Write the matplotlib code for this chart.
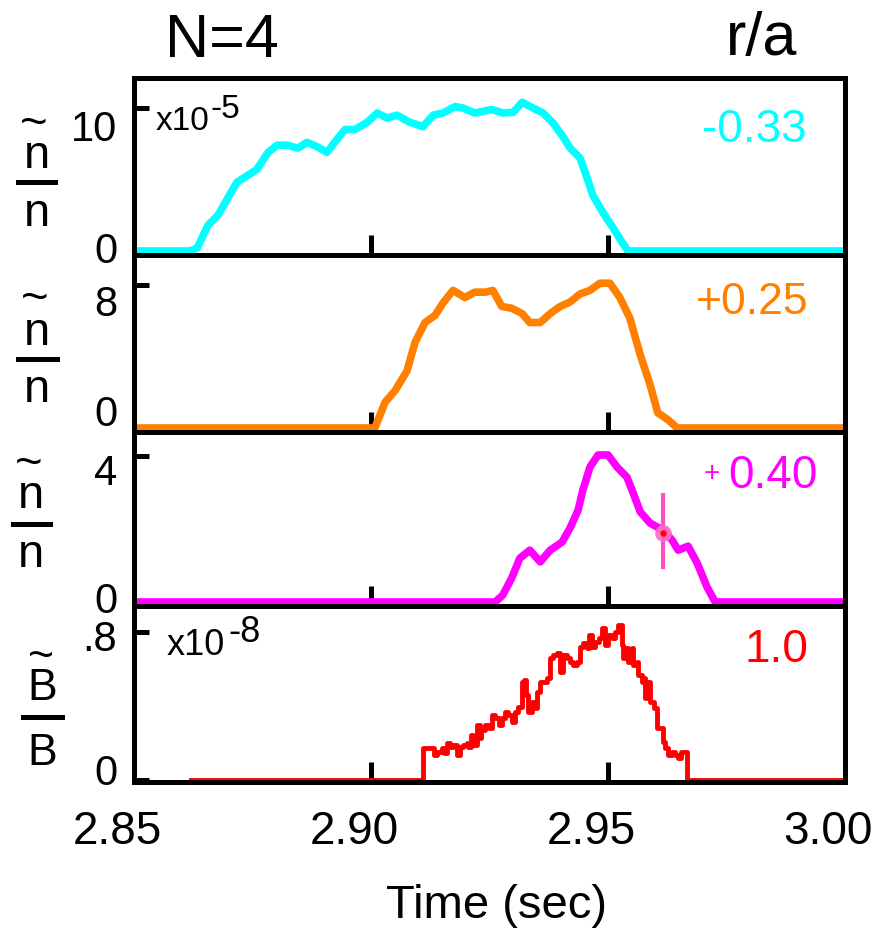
import matplotlib
matplotlib.use('Agg')
import matplotlib.pyplot as plt
from matplotlib.lines import Line2D
from matplotlib.transforms import ScaledTranslation

plt.rcParams['font.family'] = ['Liberation Sans', 'DejaVu Sans']

W, H = 873, 931  # размер картинки в пикселях

# --- данные (время, с) ---
t_cyan = [2.850, 2.8618, 2.8633, 2.8656, 2.8677, 2.8717, 2.8759, 2.8783, 2.8802, 2.8823,
          2.8846, 2.8865, 2.8886, 2.8907, 2.8928, 2.8945, 2.8966, 2.8992, 2.9013, 2.9034,
          2.9055, 2.9082, 2.9110, 2.9131, 2.9152, 2.9177, 2.9194, 2.9219, 2.9255, 2.9278,
          2.9300, 2.9319, 2.9342, 2.9363, 2.9384, 2.9405, 2.9420, 2.9441, 2.9456, 2.9468,
          2.9489, 2.9511, 2.9530, 2.9542, 3.000]
n_cyan = [0, 0, 0.2, 1.8, 2.5, 4.8, 5.7, 6.9, 7.4, 7.4,
          7.2, 7.6, 7.3, 6.9, 7.8, 8.5, 8.5, 9.0, 9.65, 9.3,
          9.5, 9.0, 8.7, 9.5, 9.65, 10.1, 10.0, 9.65, 9.9, 9.65,
          9.7, 10.4, 10.0, 9.65, 8.95, 8.0, 7.2, 6.5, 5.1, 3.9,
          2.7, 1.6, 0.6, 0, 0]

t_orange = [2.850, 2.9008, 2.9030, 2.9051, 2.9076, 2.9093, 2.9114, 2.9135, 2.9152, 2.9173,
            2.9198, 2.9219, 2.9241, 2.9257, 2.9276, 2.9297, 2.9319, 2.9335, 2.9357, 2.9378,
            2.9399, 2.9420, 2.9441, 2.9462, 2.9483, 2.9504, 2.9525, 2.9546, 2.9568, 2.9589,
            2.9605, 2.9627, 2.9646, 3.000]
n_orange = [0, 0, 1.45, 2.1, 3.2, 4.8, 5.9, 6.3, 7.0, 7.7,
            7.3, 7.6, 7.6, 7.7, 6.8, 6.7, 6.4, 5.9, 5.9, 6.4,
            6.8, 7.05, 7.5, 7.7, 8.1, 8.1, 7.3, 6.15, 4.1, 2.4,
            0.85, 0.45, 0, 0]

t_magenta = [2.850, 2.9262, 2.9278, 2.9297, 2.9314, 2.9335, 2.9357, 2.9378, 2.9403, 2.9420,
             2.9437, 2.9447, 2.9462, 2.9479, 2.9500, 2.9519, 2.9540, 2.9553, 2.9568, 2.9589,
             2.9616, 2.9635, 2.9648, 2.9669, 2.9688, 2.9709, 2.9726, 3.000]
n_magenta = [0, 0, 0.19, 0.66, 1.2, 1.42, 1.1, 1.42, 1.64, 2.03,
             2.52, 3.07, 3.7, 4.03, 4.03, 3.7, 3.42, 2.99, 2.47, 2.16,
             1.97, 1.7, 1.42, 1.53, 1.07, 0.41, 0, 0]

# точка с погрешностью на третьей панели
t_err = 2.9616
n_err = 1.89
n_err_lo, n_err_hi = 0.96, 2.93

t_red = [2.8620, 2.9110, 2.9132, 2.9139, 2.9149, 2.9153, 2.9160, 2.9167, 2.9174, 2.9181,
         2.9188, 2.9195, 2.9202, 2.9205, 2.9212, 2.9216, 2.9223, 2.9230, 2.9233, 2.9241,
         2.9248, 2.9255, 2.9262, 2.9269, 2.9276, 2.9283, 2.9290, 2.9297, 2.9304, 2.9311,
         2.9318, 2.9323, 2.9328, 2.9332, 2.9339, 2.9346, 2.9350, 2.9357, 2.9364, 2.9371,
         2.9378, 2.9385, 2.9392, 2.9399, 2.9406, 2.9413, 2.9420, 2.9427, 2.9434, 2.9441,
         2.9448, 2.9455, 2.9459, 2.9466, 2.9473, 2.9480, 2.9487, 2.9494, 2.9501, 2.9508,
         2.9515, 2.9522, 2.9529, 2.9532, 2.9539, 2.9543, 2.9550, 2.9553, 2.9561, 2.9564,
         2.9571, 2.9575, 2.9578, 2.9582, 2.9585, 2.9589, 2.9596, 2.9603, 2.9613, 2.9617,
         2.9620, 2.9627, 2.9634, 2.9641, 2.9648, 2.9655, 2.9662, 2.9667, 3.0000]
b_red = [0, 0.171, 0.135, 0.153, 0.171, 0.144, 0.198, 0.180, 0.189, 0.135,
         0.180, 0.189, 0.198, 0.180, 0.243, 0.189, 0.297, 0.225, 0.270, 0.297,
         0.279, 0.351, 0.333, 0.297, 0.333, 0.369, 0.351, 0.315, 0.369, 0.396,
         0.532, 0.541, 0.459, 0.369, 0.423, 0.387, 0.477, 0.532, 0.532, 0.550,
         0.658, 0.676, 0.685, 0.586, 0.676, 0.658, 0.640, 0.622, 0.640, 0.721,
         0.739, 0.712, 0.784, 0.721, 0.748, 0.766, 0.820, 0.730, 0.784, 0.766,
         0.802, 0.838, 0.730, 0.658, 0.712, 0.640, 0.712, 0.622, 0.640, 0.568,
         0.532, 0.550, 0.441, 0.477, 0.532, 0.423, 0.387, 0.279, 0.279, 0.207,
         0.171, 0.135, 0.153, 0.135, 0.117, 0.153, 0.153, 0, 0]

x_ticks = [2.85, 2.90, 2.95, 3.00]
x_labels = ['2.85', '2.90', '2.95', '3.00']

radii = ['-0.33', '+0.25', '0.40', '1.0']


def fx(px):
    return px / W


def fy(py):
    return 1 - py / H


def shift(artist, dx, dy):
    # сдвиг текста в пикселях (dy вниз)
    artist.set_transform(artist.get_transform() +
                         ScaledTranslation(dx / 100, -dy / 100, fig.dpi_scale_trans))


fig = plt.figure(figsize=(W / 100, H / 100), dpi=100)

# границы панелей (пиксели сверху)
left, right = 134, 845
edges = [78, 255, 432, 606, 782]
ylims = [(-0.28, 12.1), (-0.224, 9.68), (-0.11, 4.66), (-0.011, 0.94)]
yticks = [[0, 10], [0, 8], [0, 4], [0, 0.8]]
yticklabels = [['0', '10'], ['0', '8'], ['0', '4'], ['0', '.8']]
# в оригинале подписи стоят не точно у засечек
ylabel_dy = [[-3, 17], [-17, 15], [-4, 13], [-10, 4]]

axes = []
for i in range(4):
    ax = fig.add_axes([fx(left), fy(edges[i + 1]), fx(right) - fx(left),
                       (edges[i + 1] - edges[i]) / H])
    ax.set_xlim(2.85, 3.00)
    ax.set_ylim(*ylims[i])
    ax.set_yticks(yticks[i])
    ax.set_yticklabels(yticklabels[i])
    ax.set_xticks(x_ticks)
    for s in ax.spines.values():
        s.set_linewidth(3.6)
    ax.tick_params(axis='y', direction='in', length=11, width=3.6, labelsize=30, pad=12)
    ax.tick_params(axis='x', direction='in', length=14.5, width=3.6, labelsize=33, pad=20)
    for lab, dy in zip(ax.get_yticklabels(), ylabel_dy[i]):
        shift(lab, 0, dy)
    if i < 3:
        ax.set_xticklabels([])
    else:
        ax.set_xticklabels(x_labels)
        for lab in ax.get_xticklabels():
            shift(lab, -17, 0)
    axes.append(ax)

ax1, ax2, ax3, ax4 = axes

ax1.plot(t_cyan, n_cyan, color='#00ffff', lw=5.5, solid_joinstyle='round')
ax2.plot(t_orange, n_orange, color='#ff8000', lw=5.5, solid_joinstyle='round')
ax3.plot(t_magenta, n_magenta, color='#ff00ff', lw=5.5, solid_joinstyle='round')
ax4.plot(t_red, b_red, color='#ff0000', lw=3.5, drawstyle='steps-post')

# погрешность
ax3.plot([t_err, t_err], [n_err_lo, n_err_hi], color='#ff4fc4', lw=3, zorder=3)
ax3.plot([t_err], [n_err], 'o', ms=11, color='#ff6ec7', alpha=0.9, zorder=4)
ax3.plot([t_err], [n_err], 'o', ms=3.5, color='#ff0000', zorder=5)

# подписи r/a
fig.text(fx(807), fy(142), radii[0], color='#00ffff', fontsize=33, ha='right', va='baseline')
fig.text(fx(808), fy(314), radii[1], color='#ff8000', fontsize=32, ha='right', va='baseline')
fig.text(fx(818), fy(488), radii[2], color='#ff00ff', fontsize=33, ha='right', va='baseline')
fig.text(fx(712), fy(471), '+', color='#ff00ff', fontsize=20, ha='center', va='center_baseline')
fig.text(fx(808), fy(662), radii[3], color='#ff0000', fontsize=33, ha='right', va='baseline')

# множители
fig.text(fx(156), fy(130), 'x10', fontsize=24, va='baseline')
fig.text(fx(211), fy(118), '-5', fontsize=24, va='baseline')
fig.text(fx(167), fy(655), 'x10', fontsize=26, va='baseline')
fig.text(fx(228), fy(642), '-8', fontsize=26, va='baseline')

# заголовки
fig.text(fx(222), fy(57), 'N=4', fontsize=44, ha='center', va='baseline')
fig.text(fx(762), fy(55), 'r/a', fontsize=44, ha='center', va='baseline')
fig.text(fx(497), fy(918), 'Time (sec)', fontsize=34, ha='center', va='baseline')


def frac_label(letter, cx_t, y_t, cx, y_top, y_bar, x0, x1, y_bot, fs=34):
    fig.text(fx(cx_t), fy(y_t), '~', fontsize=fs, ha='center', va='baseline')
    fig.text(fx(cx), fy(y_top), letter, fontsize=fs, ha='center', va='baseline')
    fig.add_artist(Line2D([fx(x0), fx(x1)], [fy(y_bar), fy(y_bar)], color='black',
                          lw=3.6, transform=fig.transFigure))
    fig.text(fx(cx), fy(y_bot), letter, fontsize=fs, ha='center', va='baseline')


frac_label('n', 34, 137, 37, 168, 182, 18, 55, 226)
frac_label('n', 35, 312, 37, 345, 359, 18, 57, 402)
frac_label('n', 29, 477, 31, 508, 524, 13, 50, 567)
frac_label('B', 41, 669, 42, 700, 717, 23, 62, 765, fs=32)

fig.savefig('out.png', dpi=100)
